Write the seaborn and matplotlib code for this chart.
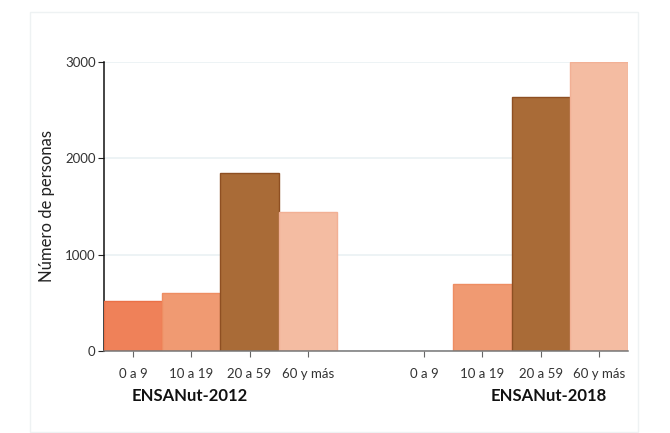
import pandas as pd
import matplotlib.pyplot as plt
import matplotlib.colors as mcolors
import matplotlib.transforms as mtransforms
from matplotlib.patches import Rectangle
import seaborn as sns

# ==================================================
# DATOS
# ==================================================

edades = ['0 a 9', '10 a 19', '20 a 59', '60 y más']
encuestas = ['ENSANut-2012', 'ENSANut-2018']
valores_2012 = [520, 600, 1845, 1440]
valores_2018 = [0, 700, 2640, 3000]

colores = ['#EF8159', '#F09A72', '#A96B37', '#F4BCA2']
bordes = ['#EA7148', '#EE8D62', '#8E4F22', '#F2B095']

filas = []
for enc, vals in zip(encuestas, [valores_2012, valores_2018]):
    for edad, v in zip(edades, vals):
        filas.append({'slot': enc + '|' + edad, 'edad': edad, 'encuesta': enc, 'valor': v})
df = pd.DataFrame(filas)

# orden de las posiciones, con un hueco entre encuestas
orden = [encuestas[0] + '|' + e for e in edades] + ['hueco'] + [encuestas[1] + '|' + e for e in edades]

# ==================================================
# GRAFICA
# ==================================================

sns.set_style('white')
plt.rcParams['font.family'] = ['Lato', 'DejaVu Sans']

fig = plt.figure(figsize=(6.7, 4.33), dpi=100)
fig.patches.append(Rectangle((30 / 670, 1 - 432 / 433), 608 / 670, 420 / 433,
                             transform=fig.transFigure, fill=False,
                             edgecolor='#EEF2F3', linewidth=1))
ax = fig.add_axes([104 / 670, 1 - 351 / 433, 524 / 670, 289 / 433])

sns.barplot(data=df, x='slot', y='valor', hue='edad', order=orden,
            hue_order=edades, palette=colores, dodge=False, width=1.0,
            saturation=1, legend=False, ax=ax, zorder=3)

rgb_colores = [mcolors.to_rgb(c) for c in colores]
for p in ax.patches:
    fc = p.get_facecolor()[:3]
    for c, b in zip(rgb_colores, bordes):
        if all(abs(a - bb) < 0.01 for a, bb in zip(fc, c)):
            p.set_edgecolor(b)
    p.set_linewidth(1.0)
    if p.get_height() == 0:
        p.set_visible(False)

ax.set_ylim(0, 3000)
ax.set_xlim(-0.5, len(orden) - 0.5)
ax.set_yticks([0, 1000, 2000, 3000])
ax.yaxis.grid(True, color='#EAF1F3', linewidth=1.2, zorder=0)
ax.set_axisbelow(True)

ticks = [i for i, s in enumerate(orden) if s != 'hueco']
ax.set_xticks(ticks)
ax.set_xticklabels([orden[i].split('|')[1] for i in ticks])

ax.tick_params(axis='x', length=4, color='#666666', labelsize=9.5, labelcolor='#333333', pad=8, direction='out', bottom=True)
ax.tick_params(axis='y', length=4, color='#222222', labelsize=9.5, labelcolor='#333333', pad=2, direction='out', left=True)

for s in ['top', 'right']:
    ax.spines[s].set_visible(False)
ax.spines['left'].set_color('#111111')
ax.spines['bottom'].set_color('#777777')
ax.spines['left'].set_linewidth(1.1)
ax.spines['bottom'].set_linewidth(1.1)
ax.spines['bottom'].set_zorder(4)

ax.set_xlabel('')
ax.set_ylabel('Número de personas', fontsize=12, color='#222222', labelpad=7)

trans = mtransforms.blended_transform_factory(ax.transData, fig.transFigure)
ax.text(0.98, 1 - 396 / 433, encuestas[0], transform=trans, ha='center', va='center',
        fontsize=12, fontweight='bold', color='#111111')
ax.text(7.14, 1 - 396 / 433, encuestas[1], transform=trans, ha='center', va='center',
        fontsize=12, fontweight='bold', color='#111111')

plt.savefig('out.png', dpi=100)
